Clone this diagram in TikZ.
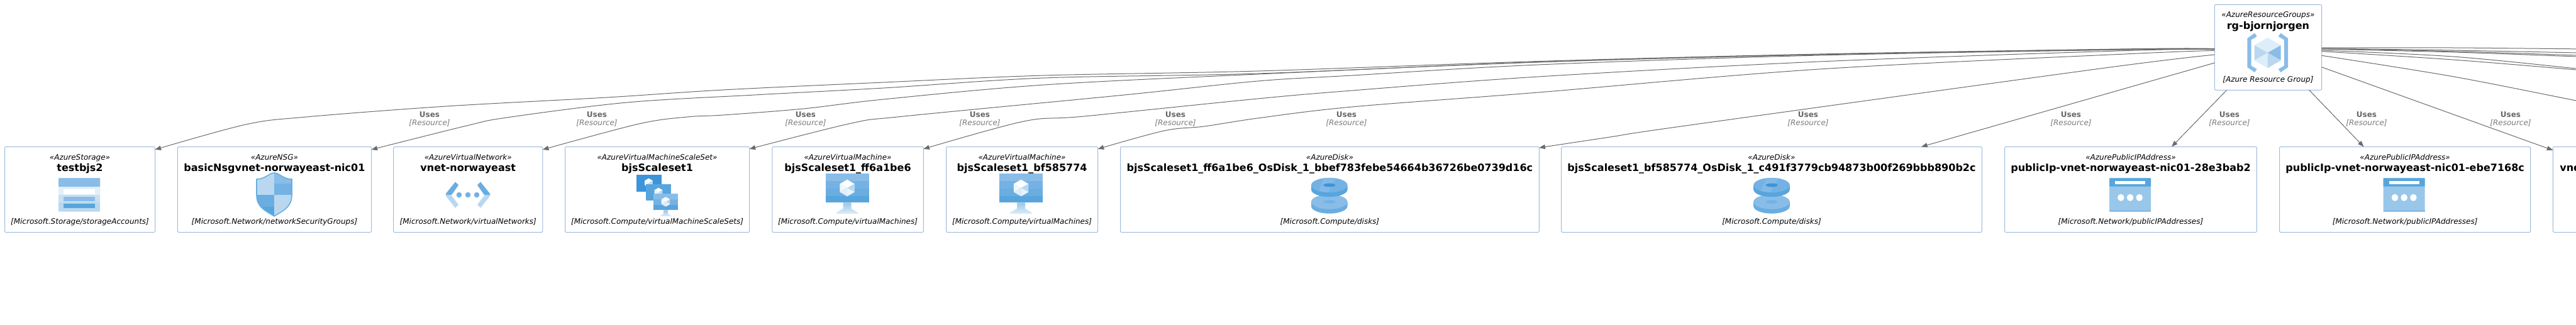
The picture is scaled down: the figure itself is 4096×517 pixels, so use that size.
\documentclass[tikz,border=0pt]{standalone}
\usepackage{fontspec}
\setmainfont{DejaVu Sans}
\usetikzlibrary{arrows.meta}
\definecolor{boxline}{HTML}{9FBBDD}
\definecolor{edgecol}{HTML}{6B6B6B}
\definecolor{labA}{HTML}{666666}
\definecolor{labB}{HTML}{7A7A7A}
\definecolor{az1}{HTML}{89BDE8}
\definecolor{az2}{HTML}{74B2E5}
\definecolor{az3}{HTML}{6AADE0}
\definecolor{az4}{HTML}{58A5DD}
\definecolor{az5}{HTML}{3D94D8}
\definecolor{azl1}{HTML}{B9D8EF}
\definecolor{azl2}{HTML}{DDEDF9}
\definecolor{azl3}{HTML}{C8E0F2}
\definecolor{azl4}{HTML}{99C7EA}
\tikzset{
  resbox/.style={draw=boxline,fill=white,line width=0.25mm,rounded corners=0.5mm,inner sep=0pt,outer sep=0pt},
  stereo/.style={anchor=base,inner sep=0pt,text=black,font=\fontsize{8.536}{10}\selectfont\itshape},
  restitle/.style={anchor=base,inner sep=0pt,text=black,font=\fontsize{11.38}{13}\selectfont\bfseries},
  restype/.style={anchor=base,inner sep=0pt,text=black,font=\fontsize{8.536}{10}\selectfont\itshape},
  useslab/.style={anchor=base,inner sep=0pt,text=labA,font=\fontsize{8.536}{10}\selectfont\bfseries},
  reslab/.style={anchor=base,inner sep=0pt,text=labB,font=\fontsize{8.536}{10}\selectfont\itshape},
  uses/.style={draw=edgecol,line width=0.25mm,-{Triangle[length=2.4mm,width=1.8mm]}},
  offedge/.style={draw=edgecol,line width=0.25mm},
  curve/.style={smooth,tension=0.55},
}
% id, left, right, top, stereotype, title, type
\newcommand\ResBox[7]{%
  \pgfmathsetmacro\bcx{(#2+#3)/2}%
  \pgfmathsetmacro\bw{#3-#2}%
  \pgfmathsetmacro\bcy{#4+68}%
  \pgfmathsetmacro\bys{#4+20.5}%
  \pgfmathsetmacro\byt{#4+38.8}%
  \pgfmathsetmacro\byb{#4+123.2}%
  \node[resbox,minimum width={\bw*0.25mm},minimum height={136*0.25mm}] (#1) at (\bcx,\bcy) {};
  \node[stereo] (#1s) at (\bcx,\bys) {«#5»};
  \node[restitle] (#1t) at (\bcx,\byt) {#6};
  \node[restype] (#1b) at (\bcx,\byb) {[#7]};
}
% id, x
\newcommand\UsesLabel[2]{%
  \node[useslab] (#1u) at (#2,186) {Uses};
  \node[reslab] (#1r) at (#2,199.3) {[Resource]};
}
% cx, cy, scale
\newcommand\Crystal[3]{%
  \begin{scope}[shift={(#1,#2)},scale=#3]
    \fill[white!93!azl2] (0,-13.3) -- (11.75,-6.5) -- (0,0) -- (-11.75,-6.5) -- cycle;
    \fill[azl1] (11.75,-6.5) -- (11.75,6.5) -- (0,13.3) -- (0,0) -- cycle;
    \fill[white!60!azl2] (-11.75,-6.5) -- (-11.75,6.5) -- (0,0) -- cycle;
    \fill[azl2] (-11.75,6.5) -- (0,13.3) -- (0,0) -- cycle;
    \fill[azl2!70!white] (11.75,6.5) -- (0,13.3) -- (0,0) -- cycle;
  \end{scope}
}
\newcommand\VMicon[1]{%
  \begin{scope}[shift={(#1,0)}]
    \fill[az1] (-34.5,276) rectangle (34.5,288);
    \fill[az2] (-34.5,288) rectangle (34.5,300);
    \fill[az3] (-34.5,300) rectangle (34.5,312);
    \fill[az4] (-34.5,312) rectangle (34.5,322.3);
    \shade[top color=azl4,bottom color=azl2] (-6.5,322.3) -- (6.5,322.3) -- (6.5,332) -- (17,338) -- (17,340) -- (-17,340) -- (-17,338) -- (-6.5,332) -- cycle;
    \Crystal{0}{299}{1}
  \end{scope}
}
\newcommand\DiskPart[6]{% cx topcy thick topcol sidecol holecol
  \fill[#5] (#1-28.8,#2) -- (#1-28.8,#2+#3) arc[start angle=180,end angle=0,x radius=28.8,y radius=11.7] -- (#1+28.8,#2) -- cycle;
  \fill[#4] (#1,#2) ellipse[x radius=28.8,y radius=11.7];
  \fill[#6] (#1,#2) ellipse[x radius=9.4,y radius=2.8];
}
\newcommand\DiskIcon[1]{%
  \DiskPart{#1}{321}{7}{az1}{az3}{az2}
  \DiskPart{#1}{294.5}{7}{az2}{az4}{az5}
  \fill[az1,opacity=.7] (#1-8,283.2) -- (#1+10,283.4) -- (#1-2,305.9) -- (#1-17,303.9) -- cycle;
  \fill[az5] (#1,294.5) ellipse[x radius=9.4,y radius=2.8];
}
\newcommand\IPicon[1]{%
  \begin{scope}[shift={(#1,0)}]
    \fill[azl4,rounded corners=0.2mm] (-33,283.3) rectangle (33,336.7);
    \fill[az4,rounded corners=0.2mm] (-33,283.3) rectangle (33,296.7);
    \fill[az1] (-33,334) rectangle (33,336.7);
    \fill[white] (-24,287.7) rectangle (24,293.3);
    \fill[white] (-14.7,314.3) ellipse[x radius=5.3,y radius=5.6];
    \fill[white] (0,314.3) ellipse[x radius=5.3,y radius=5.6];
    \fill[white] (14.7,314.3) ellipse[x radius=5.3,y radius=5.6];
  \end{scope}
}
\begin{document}
\begin{tikzpicture}[x=0.25mm,y=-0.25mm]
\useasboundingbox (0,0) rectangle (4096,517);
\fill[white] (0,0) rectangle (4096,517);
\clip (0,0) rectangle (4096,517);

\ResBox{rg}{3521.3}{3691.5}{7.3}{AzureResourceGroups}{rg-bjornjorgen}{Azure Resource Group}
\ResBox{t1}{7.5}{246.5}{233.5}{AzureStorage}{testbjs2}{Microsoft.Storage/storageAccounts}
\ResBox{t2}{282.4}{590.5}{233.5}{AzureNSG}{basicNsgvnet-norwayeast-nic01}{Microsoft.Network/networkSecurityGroups}
\ResBox{t3}{625.7}{862.8}{233.5}{AzureVirtualNetwork}{vnet-norwayeast}{Microsoft.Network/virtualNetworks}
\ResBox{t4}{898.5}{1191.6}{233.5}{AzureVirtualMachineScaleSet}{bjsScaleset1}{Microsoft.Compute/virtualMachineScaleSets}
\ResBox{t5}{1227.8}{1468.3}{233.5}{AzureVirtualMachine}{bjsScaleset1\_ff6a1be6}{Microsoft.Compute/virtualMachines}
\ResBox{t6}{1504.5}{1745.6}{233.5}{AzureVirtualMachine}{bjsScaleset1\_bf585774}{Microsoft.Compute/virtualMachines}
\ResBox{t7}{1781.5}{2447.3}{233.5}{AzureDisk}{bjsScaleset1\_ff6a1be6\_OsDisk\_1\_bbef783febe54664b36726be0739d16c}{Microsoft.Compute/disks}
\ResBox{t8}{2482.6}{3151.3}{233.5}{AzureDisk}{bjsScaleset1\_bf585774\_OsDisk\_1\_c491f3779cb94873b00f269bbb890b2c}{Microsoft.Compute/disks}
\ResBox{t9}{3187.6}{3588.3}{233.5}{AzurePublicIPAddress}{publicIp-vnet-norwayeast-nic01-28e3bab2}{Microsoft.Network/publicIPAddresses}
\ResBox{t10}{3624.5}{4023.7}{233.5}{AzurePublicIPAddress}{publicIp-vnet-norwayeast-nic01-ebe7168c}{Microsoft.Network/publicIPAddresses}
\node[resbox,minimum width={240*0.25mm},minimum height={136*0.25mm}] (t11) at (4179.4,301.5) {};
\node[restitle,anchor=base west] (t11t) at (4070,272.3) {vne};

% left-hand curved connectors
\draw[uses] plot[curve] coordinates {(rg.west |- 0,77.5) (3400,77.6) (2893,86) (2446,97.5) (2000,113) (1660,120) (1405,131) (1150,143) (965,155) (710,169) (487,186) (391,198) (t1.east |- 0,238)};
\draw[uses] plot[curve] coordinates {(rg.west |- 0,78) (3400,78) (2893,86.5) (2446,98.5) (2000,117) (1660,124) (1405,140) (1200,151) (997,163) (806,187) (742,200) (t2.east |- 0,238)};
\draw[uses] plot[curve] coordinates {(rg.west |- 0,78) (3400,78.4) (2893,87) (2446,99) (2000,118) (1660,135) (1405,158) (1277,173) (1150,183) (1093,186) (1016,197) (t3.east |- 0,238)};
\draw[uses] plot[curve] coordinates {(rg.west |- 0,78.5) (3400,78.8) (2893,88) (2446,103) (2150,120) (2000,129) (1788,151) (1437,185) (1354,196) (t4.east |- 0,237)};
\draw[uses] plot[curve] coordinates {(rg.west |- 0,79) (3400,80) (2893,98) (2446,122) (2150,144) (2000,157) (1724,185) (1628,193) (t5.east |- 0,237)};
\draw[uses] plot[curve] coordinates {(rg.west |- 0,80.5) (3400,85) (2893,110) (2446,147) (2150,170) (2000,188) (1915,201) (1851,208) (t6.east |- 0,237)};
\draw[uses] plot[curve] coordinates {(rg.west |- 0,87) (3340,109) (2680,200) (2560,218) (t7.east |- 0,235)};
\draw[uses] (rg.west |- 0,100) -- (3055,0 |- t8.north);
\draw[uses] (3540.6,0 |- rg.south) -- (3453,0 |- t9.north);
\draw[uses] (3671.7,0 |- rg.south) -- (3758.5,0 |- t10.north);
\draw[uses] (rg.east |- 0,106.7) -- (t11.west |- 0,239);

% connectors leaving the picture on the right
\coordinate (off1) at (4200,79);
\coordinate (off2) at (4200,87);
\coordinate (off3) at (4200,92);
\coordinate (off4) at (4200,94);
\coordinate (off5) at (4200,120);
\coordinate (off6) at (4200,120);
\coordinate (off7) at (4200,180);
\draw[offedge] plot[curve] coordinates {(rg.east |- 0,76) (3900,76) (off1)};
\draw[offedge] plot[curve] coordinates {(rg.east |- 0,77) (3900,80) (4096,84) (off2)};
\draw[offedge] plot[curve] coordinates {(rg.east |- 0,77.5) (3900,81.7) (4096,88) (off3)};
\draw[offedge] plot[curve] coordinates {(rg.east |- 0,78) (3900,83) (4096,90) (off4)};
\draw[offedge] plot[curve] coordinates {(rg.east |- 0,80) (3900,90) (4096,109) (off5)};
\draw[offedge] plot[curve] coordinates {(rg.east |- 0,81.7) (3900,95) (4096,111) (off6)};
\draw[offedge] plot[curve] coordinates {(rg.east |- 0,88.3) (3900,121.7) (4096,160) (off7)};

\UsesLabel{a}{683}
\UsesLabel{b}{949}
\UsesLabel{c}{1281}
\UsesLabel{d}{1558}
\UsesLabel{e}{1869}
\UsesLabel{f}{2141}
\UsesLabel{g}{2875}
\UsesLabel{h}{3293}
\UsesLabel{i}{3545}
\UsesLabel{j}{3763}
\UsesLabel{k}{3992}

% resource-group icon
\begin{scope}[shift={(3605.7,0)}]
  \fill[azl2] (0,60) -- (21,72) -- (0,84) -- (-21,72) -- cycle;
  \fill[azl1] (-21,72) -- (0,84) -- (-21,96) -- cycle;
  \fill[az1] (21,72) -- (0,84) -- (21,96) -- cycle;
  \fill[azl2] (0,84) -- (-21,96) -- (0,108.3) -- cycle;
  \fill[azl1] (0,84) -- (21,96) -- (0,108.3) -- cycle;
  \fill[az1] (-32.4,61) -- (-20.7,52.7) -- (-17,58) -- (-26.2,63.5) -- (-26.2,104.5) -- (-17,110) -- (-20.7,115) -- (-32.4,107) -- cycle;
  \fill[az1] (32.4,61) -- (20.7,52.7) -- (17,58) -- (26.2,63.5) -- (26.2,104.5) -- (17,110) -- (20.7,115) -- (32.4,107) -- cycle;
\end{scope}

% storage icon
\begin{scope}[shift={(126,0)}]
  \fill[azl1,rounded corners=0.2mm] (-33,283.3) rectangle (33,336.7);
  \fill[azl2!85!white] (-33,297) rectangle (33,310);
  \fill[azl3] (-33,310) rectangle (33,322);
  \fill[azl1] (-33,322) rectangle (33,333);
  \fill[az1,rounded corners=0.2mm] (-33,283.3) rectangle (33,297);
  \fill[white] (-25,301.3) rectangle (25,309);
  \fill[az1] (-25,313) rectangle (25,320);
  \fill[az4] (-25,323.7) rectangle (25,331);
\end{scope}

% shield icon
\begin{scope}[shift={(436,0)}]
  \path[fill=azl1] (0,275) .. controls (-8,275) and (-14,285) .. (-28,285) -- (-28,310) -- (0,310) -- cycle;
  \path[fill=az1] (0,275) .. controls (8,275) and (14,285) .. (28,285) -- (28,293) -- (0,293) -- cycle;
  \path[fill=az2] (0,292) -- (28,292) -- (28,310) -- (0,310) -- cycle;
  \path[fill=az3] (-28,310) -- (0,310) -- (0,344) .. controls (-14,335) and (-28,330) .. (-28,310) -- cycle;
  \path[fill=az4] (0,329) -- (0,344) .. controls (-8,339) and (-14,335) .. (-19,329) -- cycle;
  \path[fill=azl1] (28,310) -- (0,310) -- (0,344) .. controls (14,335) and (28,330) .. (28,310) -- cycle;
  \draw[az3,line width=0.4mm,line join=round] (0,275) .. controls (-8,275) and (-14,285) .. (-28,285) -- (-28,310) .. controls (-28,330) and (-14,335) .. (0,344) .. controls (14,335) and (28,330) .. (28,310) -- (28,285) .. controls (14,285) and (8,275) .. (0,275) -- cycle;
\end{scope}

% virtual-network icon
\begin{scope}[shift={(744,0)}]
  \fill[az3] (-35,308) -- (-20,289.3) -- (-15,294.5) -- (-26,310) -- (-35,312) -- cycle;
  \fill[azl1] (-35,312) -- (-35,310) -- (-27,310) -- (-15,325.5) -- (-20,330.7) -- cycle;
  \fill[az3] (35,308) -- (20,289.3) -- (15,294.5) -- (26,310) -- (35,312) -- cycle;
  \fill[azl1] (35,312) -- (35,310) -- (27,310) -- (15,325.5) -- (20,330.7) -- cycle;
  \fill[az2] (-14,310) circle[radius=4.3];
  \fill[az2] (0,310) circle[radius=4.3];
  \fill[az2] (14,310) circle[radius=4.3];
\end{scope}

% scale-set icon
\fill[az5] (1012,278.3) rectangle (1051.5,304.7);
\Crystal{1031.5}{291}{0.55}
\fill[az4] (1026.9,293.3) rectangle (1067,319.3);
\Crystal{1047}{306}{0.55}
\fill[az1] (1039,308) rectangle (1078,317);
\fill[az2] (1039,317) rectangle (1078,326);
\fill[az4] (1039,326) rectangle (1078,334.3);
\shade[top color=azl4,bottom color=azl2] (1055,334.3) -- (1062,334.3) -- (1062,340) -- (1068,344) -- (1049,344) -- (1055,340) -- cycle;
\Crystal{1058.5}{321}{0.58}

\VMicon{1347}
\VMicon{1623.5}
\DiskIcon{2113.7}
\DiskIcon{2817}
\IPicon{3387}
\IPicon{3822.7}
\end{tikzpicture}
\end{document}
